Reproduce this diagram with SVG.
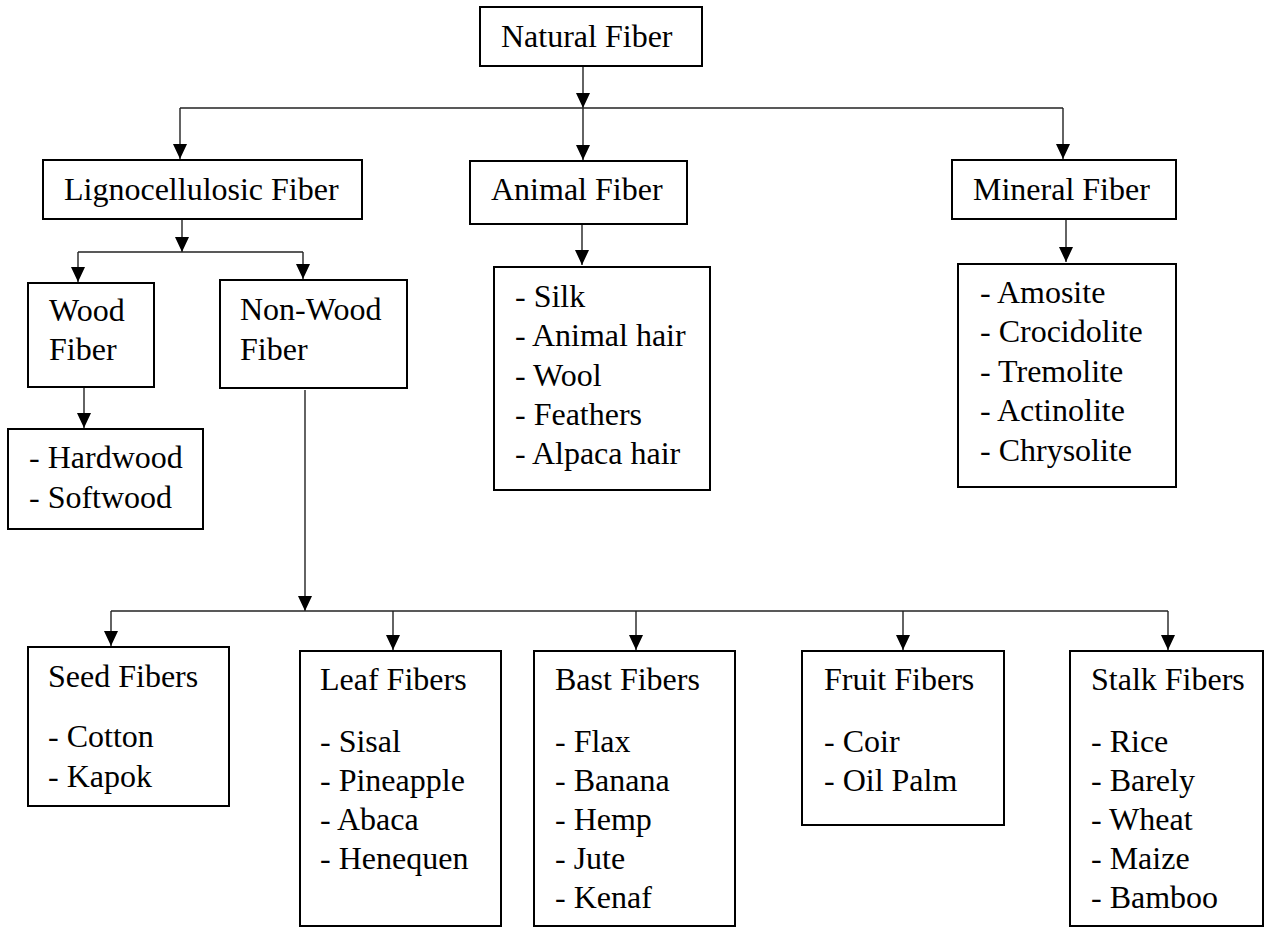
<svg xmlns="http://www.w3.org/2000/svg" width="1265" height="928" viewBox="0 0 1265 928">
<style>
.box{fill:#fff;stroke:#000;stroke-width:2}
.t{font-family:"Liberation Serif","Times New Roman",serif;font-size:32px;fill:#000}
.c{stroke:#222;stroke-width:1.4;fill:none}
.a{stroke:#222;stroke-width:1.4;fill:none;marker-end:url(#ah)}
</style>
<defs>
<marker id="ah" markerUnits="userSpaceOnUse" markerWidth="15" markerHeight="14" refX="15" refY="7" orient="auto">
<path d="M0,0 L15,7 L0,14 z" fill="#000"/>
</marker>
</defs>
<rect width="1265" height="928" fill="#fff"/>
<g id="connectors">
<line class="a" x1="583" y1="67" x2="583" y2="108"/>
<line class="c" x1="180" y1="108" x2="1063" y2="108"/>
<line class="a" x1="180" y1="108" x2="180" y2="159"/>
<line class="a" x1="583" y1="108" x2="583" y2="160"/>
<line class="a" x1="1063" y1="108" x2="1063" y2="159"/>
<line class="a" x1="182" y1="219" x2="182" y2="252"/>
<line class="c" x1="78" y1="252" x2="303" y2="252"/>
<line class="a" x1="78" y1="252" x2="78" y2="282"/>
<line class="a" x1="303" y1="252" x2="303" y2="279"/>
<line class="a" x1="582" y1="224" x2="582" y2="265"/>
<line class="a" x1="1066" y1="219" x2="1066" y2="262"/>
<line class="a" x1="84" y1="388" x2="84" y2="428"/>
<line class="a" x1="305" y1="390" x2="305" y2="611"/>
<line class="c" x1="111" y1="611" x2="1168" y2="611"/>
<line class="a" x1="111" y1="611" x2="111" y2="646"/>
<line class="a" x1="393" y1="611" x2="393" y2="650"/>
<line class="a" x1="636" y1="611" x2="636" y2="650"/>
<line class="a" x1="903" y1="611" x2="903" y2="650"/>
<line class="a" x1="1168" y1="611" x2="1168" y2="650"/>
</g>
<g id="natural"><rect class="box" x="480" y="7" width="222" height="59"/><text class="t" x="501" y="47">Natural Fiber</text></g>
<g id="ligno"><rect class="box" x="43" y="160" width="319" height="59"/><text class="t" x="64" y="200">Lignocellulosic Fiber</text></g>
<g id="animal"><rect class="box" x="470" y="161" width="217" height="63"/><text class="t" x="491" y="200">Animal Fiber</text></g>
<g id="mineral"><rect class="box" x="952" y="160" width="224" height="59"/><text class="t" x="973" y="200">Mineral Fiber</text></g>
<g id="wood"><rect class="box" x="28" y="283" width="126" height="104"/><text class="t" x="49" y="321">Wood</text><text class="t" x="49" y="360">Fiber</text></g>
<g id="nonwood"><rect class="box" x="220" y="280" width="187" height="108"/><text class="t" x="240" y="320">Non-Wood</text><text class="t" x="240" y="360">Fiber</text></g>
<g id="woodlist"><rect class="box" x="8" y="429" width="195" height="100"/><text class="t" x="29" y="468">- Hardwood</text><text class="t" x="29" y="508">- Softwood</text></g>
<g id="animallist"><rect class="box" x="494" y="267" width="216" height="223"/>
<text class="t" x="515" y="307">- Silk</text><text class="t" x="515" y="346">- Animal hair</text><text class="t" x="515" y="386">- Wool</text><text class="t" x="515" y="425">- Feathers</text><text class="t" x="515" y="464">- Alpaca hair</text></g>
<g id="minerallist"><rect class="box" x="958" y="264" width="218" height="223"/>
<text class="t" x="980" y="303">- Amosite</text><text class="t" x="980" y="342">- Crocidolite</text><text class="t" x="980" y="382">- Tremolite</text><text class="t" x="980" y="421">- Actinolite</text><text class="t" x="980" y="461">- Chrysolite</text></g>
<g id="seed"><rect class="box" x="28" y="647" width="201" height="159"/>
<text class="t" x="48" y="687">Seed Fibers</text><text class="t" x="48" y="747">- Cotton</text><text class="t" x="48" y="787">- Kapok</text></g>
<g id="leaf"><rect class="box" x="300" y="651" width="201" height="275"/>
<text class="t" x="320" y="690">Leaf Fibers</text><text class="t" x="320" y="752">- Sisal</text><text class="t" x="320" y="791">- Pineapple</text><text class="t" x="320" y="830">- Abaca</text><text class="t" x="320" y="869">- Henequen</text></g>
<g id="bast"><rect class="box" x="534" y="651" width="201" height="275"/>
<text class="t" x="555" y="690">Bast Fibers</text><text class="t" x="555" y="752">- Flax</text><text class="t" x="555" y="791">- Banana</text><text class="t" x="555" y="830">- Hemp</text><text class="t" x="555" y="869">- Jute</text><text class="t" x="555" y="908">- Kenaf</text></g>
<g id="fruit"><rect class="box" x="802" y="651" width="202" height="174"/>
<text class="t" x="824" y="690">Fruit Fibers</text><text class="t" x="824" y="752">- Coir</text><text class="t" x="824" y="791">- Oil Palm</text></g>
<g id="stalk"><rect class="box" x="1070" y="651" width="193" height="275"/>
<text class="t" x="1091" y="690">Stalk Fibers</text><text class="t" x="1091" y="752">- Rice</text><text class="t" x="1091" y="791">- Barely</text><text class="t" x="1091" y="830">- Wheat</text><text class="t" x="1091" y="869">- Maize</text><text class="t" x="1091" y="908">- Bamboo</text></g>
</svg>
